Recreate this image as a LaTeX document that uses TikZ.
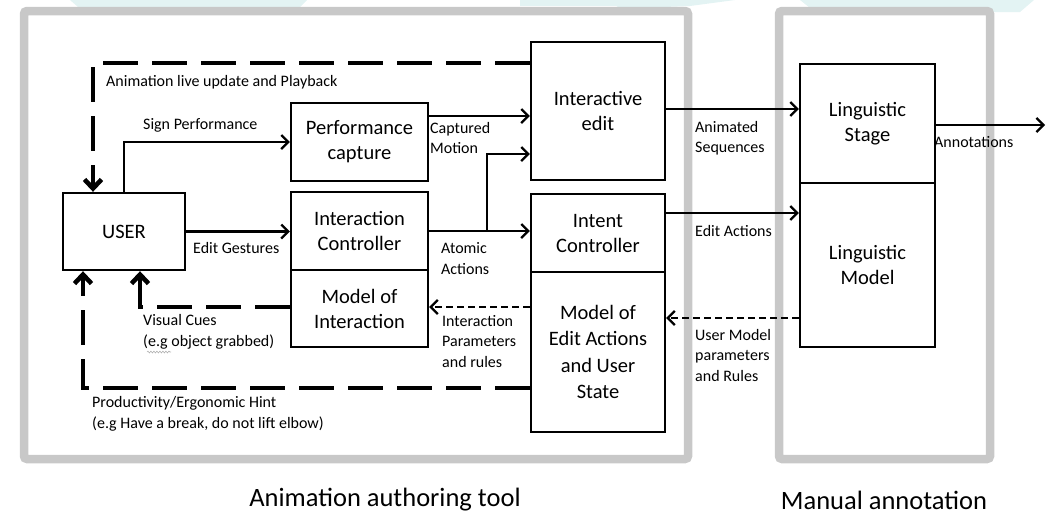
\documentclass[tikz,border=0pt]{standalone}
\usepackage{fontspec}
\setmainfont{Carlito}
\usetikzlibrary{arrows.meta,decorations.pathmorphing}

\definecolor{framegray}{RGB}{200,200,200}
\definecolor{haze}{RGB}{227,243,243}

\tikzset{
  box/.style={draw, line width=2.4pt, align=center, inner sep=0pt,
    font=\fontsize{20.5}{25}\selectfont},
  lbl/.style={align=left, anchor=west, inner sep=0pt,
    font=\fontsize{16}{20.5}\selectfont},
  title/.style={inner sep=0pt, font=\fontsize{26.5}{30}\selectfont},
  arr/.style={line width=2.2pt, -{Straight Barb[length=7pt,width=14pt]}},
  bigdash/.style={line width=4.6pt, dash pattern=on 35pt off 14pt,
    -{Straight Barb[length=9pt,width=17pt]}},
  smalldash/.style={line width=2.2pt, dash pattern=on 7pt off 4pt,
    -{Straight Barb[length=7pt,width=14pt]}},
  frame/.style={draw=framegray, line width=8.5pt, rounded corners=3pt},
}

\begin{document}
\begin{tikzpicture}[x=1pt,y=-1pt]
\useasboundingbox (0,0) rectangle (1048,515);

% faint background tint along the top edge
\fill[haze] (70,0) -- (78,7) -- (300,7) -- (307,0) -- cycle;
\fill[haze] (613,9) -- (628,0) -- (735,0) -- (690,6) -- cycle;
\fill[haze] (520,0) -- (690,0) -- (690,6) -- (520,6) -- cycle;
\fill[haze] (800,0) -- (1034,0) -- (1020,12) -- (815,12) -- cycle;

% grouping frames
\draw[frame] (24,11) rectangle (688,459);
\draw[frame] (779,11) rectangle (990,459);

% blocks
\node[box, minimum width=122pt, minimum height=77pt] (user) at (124,231.5) {USER};
\node[box, minimum width=137pt, minimum height=78pt] (perf) at (359.5,142) {Performance\\capture};
\node[box, minimum width=137pt, minimum height=78pt] (ictl) at (359.5,231) {Interaction\\Controller};
\node[box, minimum width=137pt, minimum height=77pt] (mint) at (359.5,308.5) {Model of\\Interaction};
\node[box, minimum width=134pt, minimum height=138pt] (iedit) at (598,111) {Interactive\\edit};
\node[box, minimum width=134pt, minimum height=78pt] (intent) at (598,233) {Intent\\Controller};
\node[box, minimum width=134pt, minimum height=160pt, font=\fontsize{20.5}{26.5}\selectfont] (medit) at (598,352) {Model of\\Edit Actions\\and User\\State};
\node[box, minimum width=135pt, minimum height=119pt] (lstage) at (867.5,123.5) {Linguistic\\Stage};
\node[box, minimum width=135pt, minimum height=164pt] (lmodel) at (867.5,265) {Linguistic\\Model};

% helper points for the elbows
\coordinate (branch) at (487,231);
\coordinate (livex) at (93,0);
\coordinate (cuex) at (140,0);
\coordinate (hintx) at (83,0);
\coordinate (annend) at (1045,125);

% solid connectors
\draw[arr] (user.north) |- (perf.west);
\draw[arr] (user.east) -- (user.east -| ictl.west);
\draw[arr] ([yshift=26pt]perf.east) coordinate (cm) -- (cm -| iedit.west);
\draw[arr] (ictl.east) -- (ictl.east -| intent.west);
\draw[arr] (branch) |- ([yshift=-43pt]iedit.west);
\draw[arr] ([yshift=2pt]iedit.east) coordinate (as) -- (as -| lstage.west);
\draw[arr] ([yshift=20pt]intent.east) coordinate (ea) -- (ea -| lmodel.west);
\draw[arr] (lstage.east |- annend) -- (annend);

% dashed feedback connectors
\draw[bigdash] ([yshift=48pt]iedit.west) -| (livex |- user.north);
\draw[bigdash] ([yshift=1.5pt]mint.west) -| (cuex |- user.south);
\draw[bigdash] ([yshift=-36pt]medit.west) -| (hintx |- user.south);
\draw[smalldash] ([yshift=45pt]medit.west) coordinate (ip) -- (ip -| mint.east);
\draw[smalldash] ([yshift=-53pt]lmodel.west) coordinate (um) -- (um -| medit.east);

% connector labels
\node[lbl] (lbllive) at (106,82) {Animation live update and Playback};
\node[lbl] (lblsign) at (143,125) {Sign Performance};
\node[lbl] (lblcap) at (430,138) {Captured\\Motion};
\node[lbl] (lblgest) at (193,248) {Edit Gestures};
\node[lbl] (lblatom) at (441,258.5) {Atomic\\Actions};
\node[lbl] (lblcue) at (143,332) {Visual Cues\\(e.g object grabbed)};
\node[lbl] (lblhint) at (92,414) {Productivity/Ergonomic Hint\\(e.g Have a break, do not lift elbow)};
\node[lbl] (lblpar) at (442,341.5) {Interaction\\Parameters\\and rules};
\node[lbl] (lblanim) at (695,138) {Animated\\Sequences};
\node[lbl] (lbledit) at (695,231) {Edit Actions};
\node[lbl] (lbluser) at (695,355) {User Model\\parameters\\and Rules};
\node[lbl] (lblann) at (934,142) {Annotations};

% spell-check squiggle under the abbreviation
\draw[gray!60, line width=0.6pt, decorate,
  decoration={snake, amplitude=0.9pt, segment length=3pt}] (147,352) -- (171,352);

% group titles
\node[title] (tauth) at (385,500) {Animation authoring tool};
\node[title] (tman) at (884,500) {Manual annotation};
\end{tikzpicture}
\end{document}
